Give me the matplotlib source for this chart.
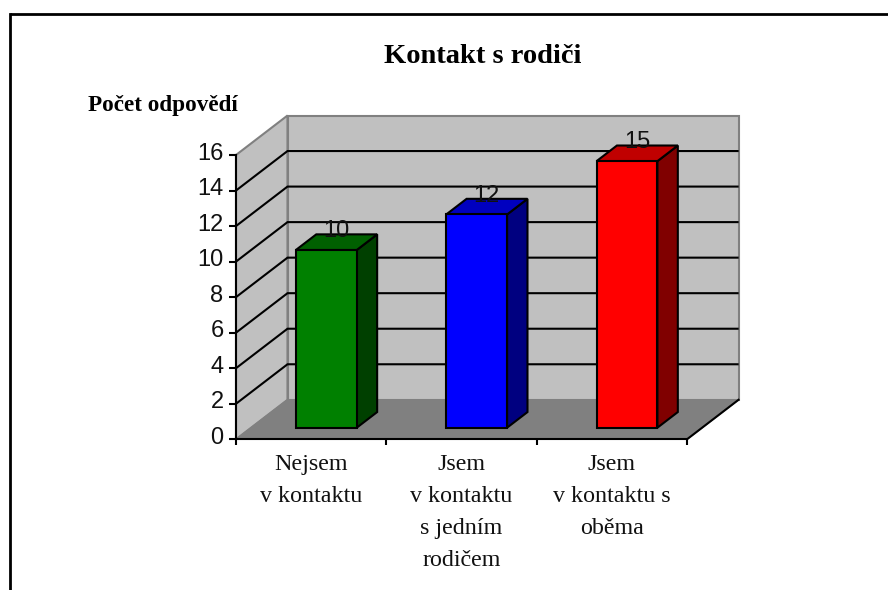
#!/usr/bin/env python3
from matplotlib import pyplot as plt
from matplotlib.lines import Line2D
from matplotlib.patches import Polygon
from matplotlib.transforms import ScaledTranslation

# data
kategorie = ['Nejsem\nv kontaktu', 'Jsem\nv kontaktu\ns jedním\nrodičem', 'Jsem\nv kontaktu s\noběma']
hodnoty = [10, 12, 15]
yticks = [0, 2, 4, 6, 8, 10, 12, 14, 16]

# front, top, side colour per bar
barvy = [('#008000', '#006000', '#004000'),
         ('#0000ff', '#0000c0', '#000080'),
         ('#ff0000', '#c00000', '#800000')]

# fake 3D: how far the back wall is shifted, in data units
DX = 51.5 / 150.3
DY = 39.5 / 17.77
sirka = 0.405       # bar width in a category slot
d0, d1 = 0.294, 0.69  # where the bar sits in the depth

W, H = 888, 590
fig = plt.figure(figsize=(W / 100, H / 100), dpi=100, facecolor='white')
ax = fig.add_axes([236 / W, (H - 439.3) / H, 451 / W, 284.3 / H])
ax.patch.set_visible(False)
ax.set_xlim(0, 3)
ax.set_ylim(0, 16)

serif = 'Liberation Serif'
sans = 'Liberation Sans'


def poly(body, fc, ec='black', lw=1.5, z=2):
    ax.add_patch(Polygon(body, closed=True, facecolor=fc, edgecolor=ec,
                         linewidth=lw, zorder=z, clip_on=False, joinstyle='miter'))


n = len(kategorie)
# walls and floor
poly([(0, 0), (DX, DY), (DX, 16 + DY), (0, 16)], '#c0c0c0', '#808080', z=1)
poly([(DX, DY), (n + DX, DY), (n + DX, 16 + DY), (DX, 16 + DY)], '#c0c0c0', '#808080', z=1)
poly([(0, 0), (n, 0), (n + DX, DY), (DX, DY)], '#808080', '#808080', 1, z=1.1)

# grid lines on both walls, the top of the wall stays grey
for v in yticks[1:-1]:
    ax.plot([0, DX, n + DX - 0.006], [v, v + DY, v + DY], color='black', lw=1.5,
            zorder=1.5, clip_on=False, solid_joinstyle='miter')
ax.plot([n, n + DX], [0, DY], color='black', lw=1.5, zorder=1.5, clip_on=False)

# bars
for i, v in enumerate(hodnoty):
    f, t, s = barvy[i]
    c = i + 0.5
    l = c - sirka / 2 + d0 * DX
    r = c + sirka / 2 + d0 * DX
    y0 = d0 * DY
    ddx = (d1 - d0) * DX
    ddy = (d1 - d0) * DY
    poly([(r, y0), (r + ddx, y0 + ddy), (r + ddx, y0 + v + ddy), (r, y0 + v)], s, z=3)
    poly([(l, y0 + v), (r, y0 + v), (r + ddx, y0 + v + ddy), (l + ddx, y0 + v + ddy)], t, z=3)
    poly([(l, y0), (r, y0), (r, y0 + v), (l, y0 + v)], f, z=3)
    ax.annotate(str(v), xy=(c + (d0 + d1) / 2 * DX, v + d1 * DY), xytext=(0, -2), textcoords='offset points',
                ha='center', va='baseline', fontsize=17, family=sans, color='#111111',
                zorder=4, annotation_clip=False)

# axes
for side in ('top', 'right'):
    ax.spines[side].set_visible(False)
for side in ('left', 'bottom'):
    ax.spines[side].set_linewidth(1.5)
    ax.spines[side].set_zorder(5)

ax.set_yticks(yticks)
ax.set_yticklabels([str(v) for v in yticks], fontsize=17, family=sans, color='#111111')
ax.tick_params(axis='y', length=5, width=1.5, pad=4)
# numbers sit a bit above their ticks in the original
posun = ScaledTranslation(0, 4 / 100, fig.dpi_scale_trans)
for lab in ax.get_yticklabels():
    lab.set_transform(lab.get_transform() + posun)

ax.set_xticks(range(n + 1))
ax.set_xticklabels([])
ax.tick_params(axis='x', length=4.5, width=1.5)
ax.set_xticks([i + 0.5 for i in range(n)], minor=True)
ax.set_xticklabels(kategorie, minor=True, fontsize=17.3, family=serif, color='#111111',
                   linespacing=1.68, va='top')
ax.tick_params(axis='x', which='minor', length=0, pad=10.5)

# titles
fig.text(482.5 / W, 1 - 63.3 / H, 'Kontakt s rodiči', ha='center', va='baseline',
         fontsize=20.5, fontweight='bold', family=serif, color='black')
fig.text(88 / W, 1 - 111.5 / H, 'Počet odpovědí', ha='left', va='baseline',
         fontsize=16.7, fontweight='bold', family=serif, color='black')

# frame of the chart area, runs off the picture on the right and bottom
fig.add_artist(Line2D([9.5 / W, 1], [1 - 14.3 / H, 1 - 14.3 / H], color='black', lw=2, solid_capstyle='butt'))
fig.add_artist(Line2D([9.5 / W, 9.5 / W], [1 - 14.3 / H, 0], color='black', lw=2, solid_capstyle='projecting'))

plt.savefig('out.png', format='png', dpi=100)
